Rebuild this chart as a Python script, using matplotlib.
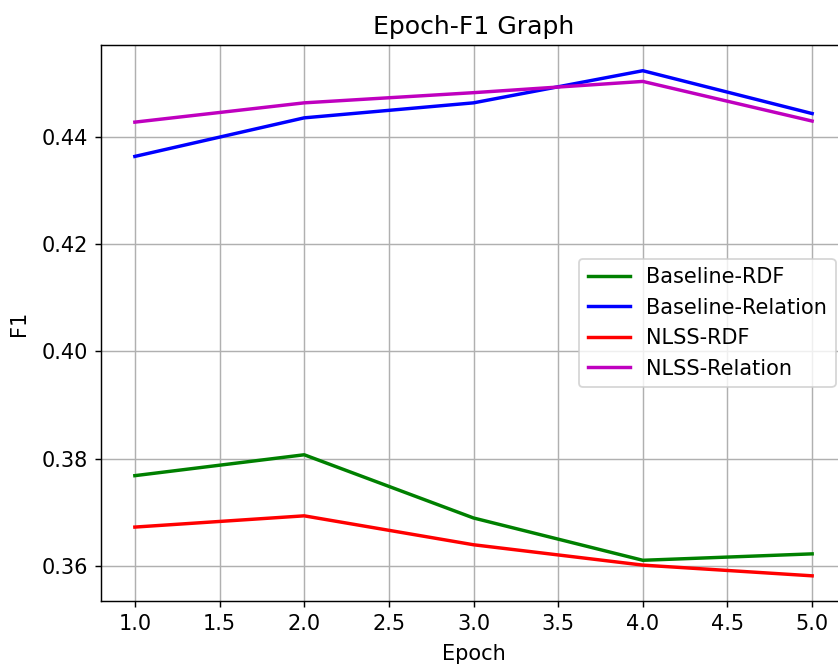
import matplotlib
matplotlib.use('Agg')
import matplotlib.pyplot as plt

epochs = [1, 2, 3, 4, 5]
baseline_rdf = [0.3768, 0.3807, 0.3689, 0.3610, 0.3622]
baseline_relation = [0.4364, 0.4436, 0.4464, 0.4524, 0.4444]
nlss_rdf = [0.3672, 0.3693, 0.3639, 0.3601, 0.3581]
nlss_relation = [0.4428, 0.4464, 0.4483, 0.4504, 0.4430]

plt.rcParams['font.size'] = 11.6
plt.rcParams['lines.linewidth'] = 1.9

dpi = 130
fig = plt.figure(figsize=(838 / dpi, 666 / dpi), dpi=dpi)
# axes run a little past the right edge, as in the original
ax = fig.add_axes([101 / 838, 65 / 666, 745 / 838, 556 / 666])

ax.plot(epochs, baseline_rdf, color='g', label='Baseline-RDF')
ax.plot(epochs, baseline_relation, color='b', label='Baseline-Relation')
ax.plot(epochs, nlss_rdf, color='r', label='NLSS-RDF')
ax.plot(epochs, nlss_relation, color='m', label='NLSS-Relation')

ax.set_xlim(0.8, 5.2)
ax.set_ylim(0.3534, 0.4572)
ax.set_yticks([0.36, 0.38, 0.40, 0.42, 0.44])
ax.grid(True)
ax.legend(loc='center right', borderaxespad=0.5)
ax.set_title('Epoch-F1 Graph', fontsize=13.9)
ax.set_xlabel('Epoch', labelpad=6)
ax.set_ylabel('F1', labelpad=7)

fig.savefig('out.png', dpi=dpi)
